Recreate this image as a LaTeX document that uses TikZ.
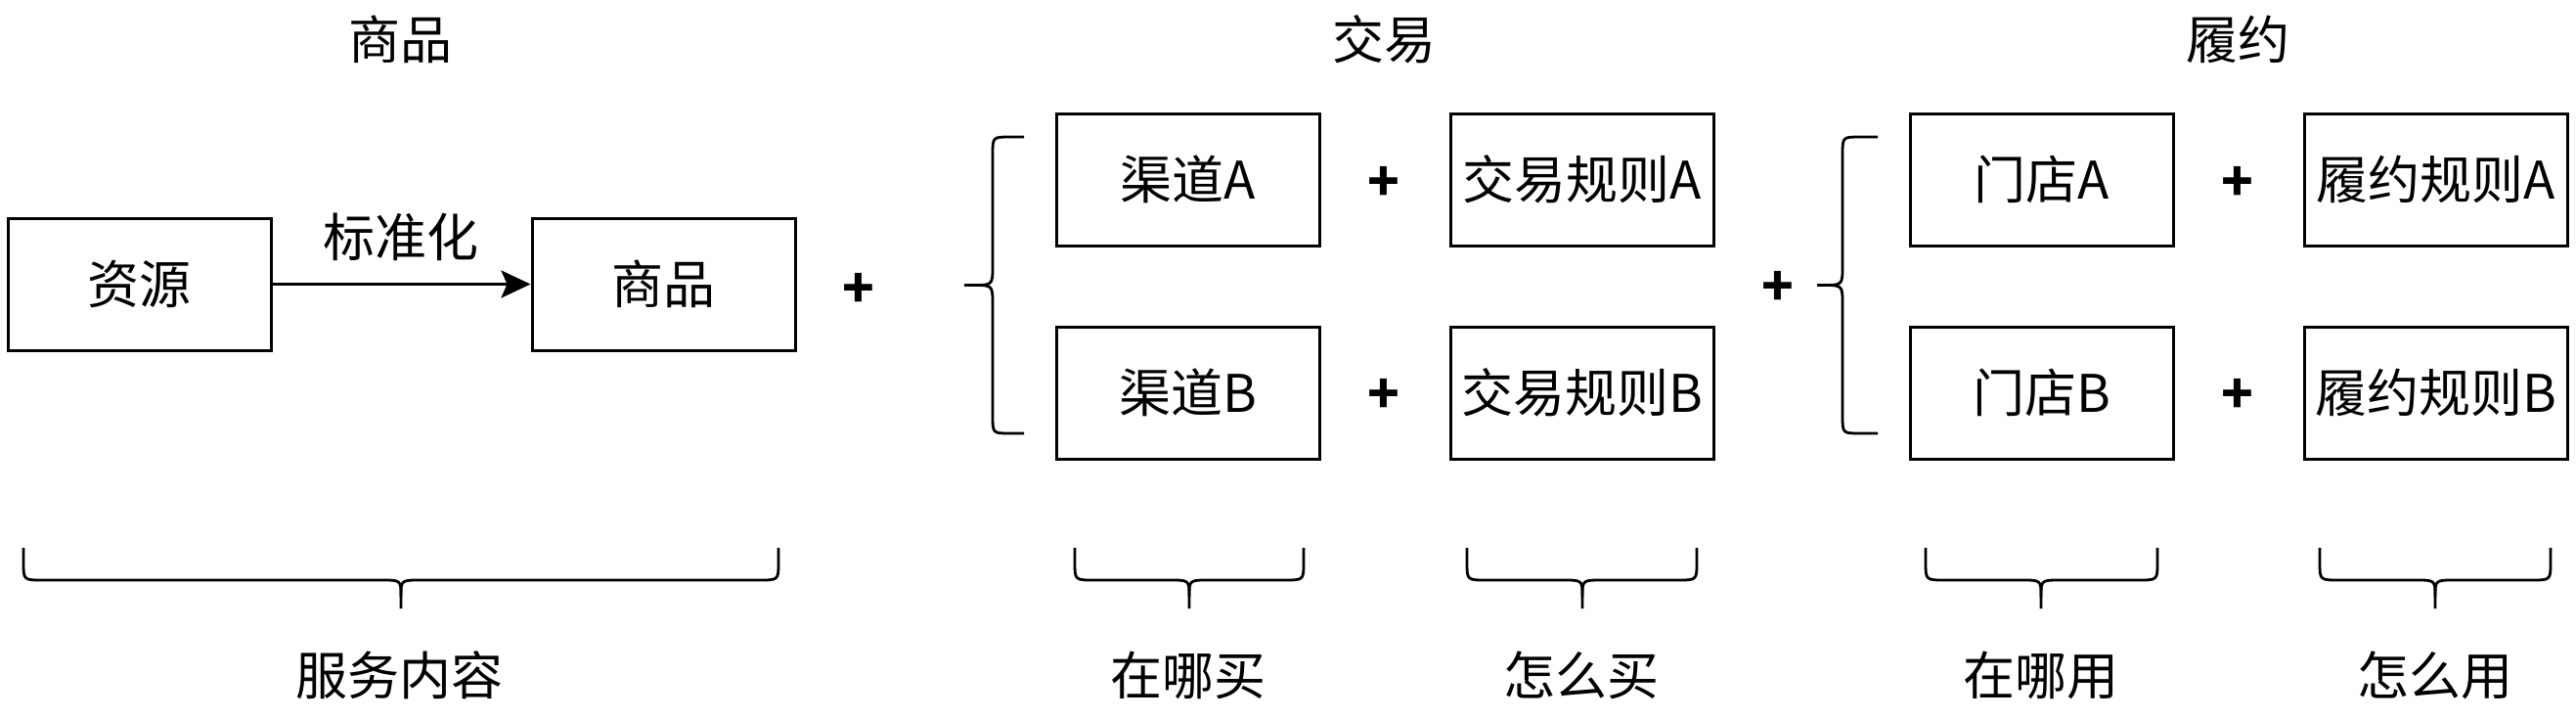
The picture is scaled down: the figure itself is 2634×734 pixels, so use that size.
\documentclass[tikz,border=0pt]{standalone}
\usepackage{fontspec}
\setmainfont{Noto Sans CJK SC}
\usetikzlibrary{arrows.meta}
\tikzset{
  x=0.5pt, y=-0.5pt,
  box/.style={draw=black, line width=1.5pt, minimum width=134.5pt, minimum height=67.5pt, inner sep=0pt, font=\fontsize{26.5}{30}\selectfont},
  lbl/.style={inner sep=0pt, font=\fontsize{26.5}{30}\selectfont},
  plus/.style={inner sep=0pt, font=\fontsize{27}{30}\selectfont\bfseries},
  brc/.style={draw=black, line width=1.4pt, line join=round},
  arr/.style={draw=black, line width=1.5pt, -{Stealth[length=15pt, width=14pt, inset=3pt]}}
}
% vertical left brace: right x, line x, tip x, top y, bottom y, mid y
\newcommand\VBr[6]{%
  \draw[brc] (#1,#4) -- ({#2+18},#4) .. controls (#2,#4) .. (#2,{#4+18}) -- (#2,{#6-20}) .. controls (#2,#6) .. ({#2-20},#6) -- (#3,#6);
  \draw[brc] (#1,#5) -- ({#2+18},#5) .. controls (#2,#5) .. (#2,{#5-18}) -- (#2,{#6+20}) .. controls (#2,#6) .. ({#2-20},#6) -- (#3,#6);
}
% horizontal bottom brace: left x, right x, tip x
\newcommand\HBr[3]{%
  \draw[brc] (#1,560) -- (#1,575) .. controls (#1,593) .. ({#1+20},593) -- ({#3-20},593) .. controls (#3,593) .. (#3,610) -- (#3,622);
  \draw[brc] (#2,560) -- (#2,575) .. controls (#2,593) .. ({#2-20},593) -- ({#3+20},593) .. controls (#3,593) .. (#3,610);
}
\begin{document}
\begin{tikzpicture}
\useasboundingbox (0,0) rectangle (2634,734);
% titles
\node[lbl] (t1) at (409,40) {商品};
\node[lbl] (t2) at (1415,40) {交易};
\node[lbl] (t3) at (2288,40) {履约};
% left part
\node[box] (zy) at (142.5,290.5) {资源};
\node[box] (sp) at (678.5,290.5) {商品};
\draw[arr] (zy) -- (sp);
\node[lbl] (std) at (410,242) {标准化};
\node[plus] (p0) at (878,297) {+};
% trade
\VBr{1047}{1015}{986}{140}{443}{291.5}
\node[box] (qa) at (1214.5,183.5) {渠道A};
\node[box] (qb) at (1214.5,401.5) {渠道B};
\node[box] (ja) at (1617.5,183.5) {交易规则A};
\node[box] (jb) at (1617.5,401.5) {交易规则B};
\node[plus] (p1) at (1415,188) {+};
\node[plus] (p2) at (1415,405) {+};
\node[plus] (p3) at (1818,295) {+};
% fulfilment
\VBr{1920}{1884}{1858}{140}{443}{291.5}
\node[box] (ma) at (2087.5,183.5) {门店A};
\node[box] (mb) at (2087.5,401.5) {门店B};
\node[box] (la) at (2490.5,183.5) {履约规则A};
\node[box] (lb) at (2490.5,401.5) {履约规则B};
\node[plus] (p4) at (2288,188) {+};
\node[plus] (p5) at (2288,405) {+};
% bottom braces
\HBr{24}{796}{410}
\HBr{1099}{1333}{1216}
\HBr{1500}{1735}{1618}
\HBr{1969}{2206}{2087}
\HBr{2372}{2608}{2490}
\node[lbl] (b0) at (408,690) {服务内容};
\node[lbl] (b1) at (1215,690) {在哪买};
\node[lbl] (b2) at (1617,690) {怎么买};
\node[lbl] (b3) at (2087,690) {在哪用};
\node[lbl] (b4) at (2490,690) {怎么用};
\end{tikzpicture}
\end{document}
